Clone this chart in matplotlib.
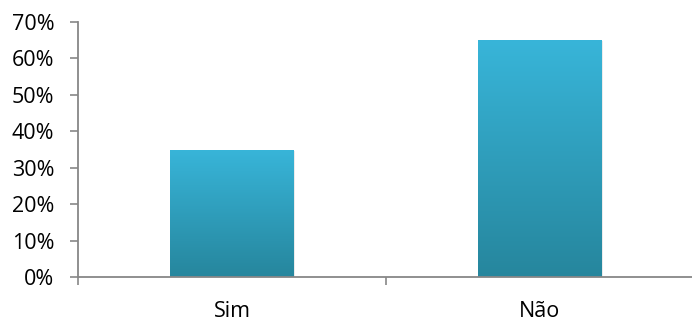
import numpy as np
import matplotlib.pyplot as plt
from matplotlib.colors import LinearSegmentedColormap

# dados
categorias = ["Sim", "Não"]
valores = [0.35, 0.65]
y_ticks = [0, 0.1, 0.2, 0.3, 0.4, 0.5, 0.6, 0.7]

TOP = "#38b5d9"
BOTTOM = "#26869d"
AXIS_GRAY = "#878787"

plt.rcParams["font.family"] = ["Open Sans", "DejaVu Sans"]

fig = plt.figure(figsize=(6.92, 3.22), dpi=100)
ax = fig.add_axes([78 / 692, 45 / 322, 616 / 692, 255 / 322])

x = np.arange(len(categorias))
bars = ax.bar(x, valores, width=0.40, color=TOP, zorder=2)

# gradiente vertical dentro de cada barra
cmap = LinearSegmentedColormap.from_list("grad", [BOTTOM, TOP])
grad = np.linspace(0, 1, 256).reshape(-1, 1)
for b in bars:
    x0, y0 = b.get_x(), b.get_y()
    w, h = b.get_width(), b.get_height()
    # leve sombra
    ax.bar(x0 + w / 2 + 0.006, h, width=w, bottom=y0 - 0.003,
           color="#000000", alpha=0.08, zorder=1)
    im = ax.imshow(grad, cmap=cmap, origin="lower", aspect="auto",
                   extent=[x0, x0 + w, y0, y0 + h], zorder=3)
    im.set_clip_path(b)

ax.set_xlim(-0.5, len(categorias) - 0.5)
ax.set_ylim(0, 0.7)

ax.set_yticks(y_ticks)
ax.set_yticklabels([f"{int(round(v * 100))}%" for v in y_ticks], fontsize=15.5)

# marcas nos limites das categorias, rótulos no centro
ax.set_xticks(np.arange(len(categorias) + 1) - 0.5)
ax.set_xticklabels([])
ax.set_xticks(x, minor=True)
ax.set_xticklabels(categorias, minor=True, fontsize=15.5)
ax.tick_params(axis="x", which="minor", length=0, pad=17)
ax.tick_params(axis="x", which="major", length=6, width=1.2, color=AXIS_GRAY)
ax.tick_params(axis="y", length=6, width=1.2, color=AXIS_GRAY, pad=11)

for s in ["top", "right"]:
    ax.spines[s].set_visible(False)
for s in ["left", "bottom"]:
    ax.spines[s].set_color(AXIS_GRAY)
    ax.spines[s].set_linewidth(1.3)
    ax.spines[s].set_zorder(4)

fig.savefig("out.png", dpi=100)
